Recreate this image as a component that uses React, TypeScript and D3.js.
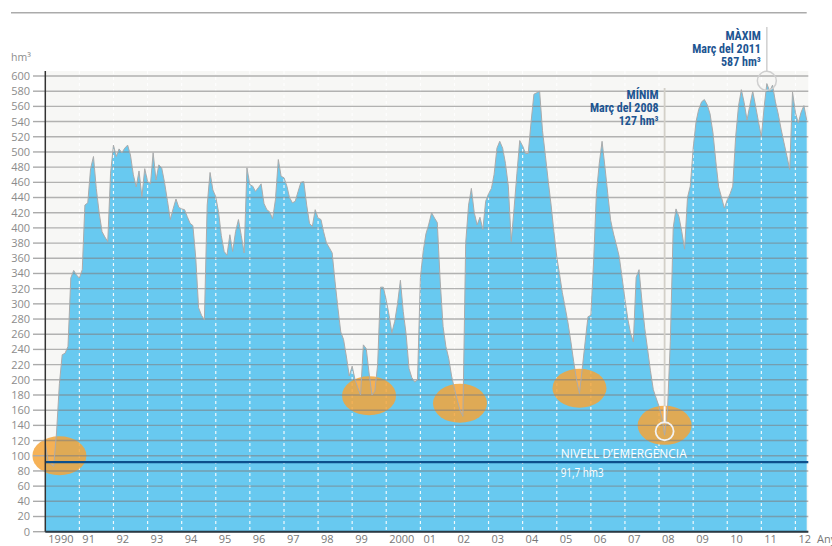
import React from "react";
import * as d3 from "d3";

const W = 832;
const H = 546;

// monthly reservoir volume (hm3), Jan 1990 .. May 2012
const years = d3.range(1990, 2013);
const yearLabels = ["1990", "91", "92", "93", "94", "95", "96", "97", "98", "99", "2000",
  "01", "02", "03", "04", "05", "06", "07", "08", "09", "10", "11", "12"];

const vol1990 = [117, 92, 89, 86, 130, 195, 233, 235, 244, 334, 344, 338];
const vol1991 = [334, 345, 430, 433, 478, 494, 452, 420, 395, 388, 382, 472];
const vol1992 = [509, 494, 504, 499, 505, 509, 496, 470, 454, 475, 441, 478];
const vol1993 = [461, 458, 499, 463, 483, 479, 460, 436, 411, 425, 438, 427];
const vol1994 = [425, 424, 415, 406, 403, 360, 295, 285, 279, 430, 473, 450];
const vol1995 = [441, 420, 390, 369, 364, 391, 369, 395, 411, 390, 367, 479];
const vol1996 = [457, 455, 448, 453, 458, 432, 424, 421, 412, 437, 490, 468];
const vol1997 = [466, 455, 440, 433, 435, 448, 460, 461, 430, 406, 402, 424];
const vol1998 = [413, 411, 395, 380, 374, 367, 330, 295, 263, 253, 230, 205];
const vol1999 = [218, 200, 190, 180, 246, 241, 209, 180, 185, 220, 322, 322];
const vol2000 = [305, 285, 262, 277, 300, 331, 290, 260, 215, 203, 197, 200];
const vol2001 = [335, 370, 392, 405, 420, 413, 407, 330, 270, 244, 228, 205];
const vol2002 = [188, 173, 160, 152, 380, 430, 452, 420, 404, 414, 398, 435];
const vol2003 = [445, 452, 470, 505, 514, 505, 485, 455, 382, 425, 472, 515];
const vol2004 = [508, 498, 498, 540, 576, 578, 580, 528, 495, 462, 430, 395];
const vol2005 = [362, 338, 315, 295, 275, 250, 224, 200, 182, 215, 250, 283];
const vol2006 = [285, 360, 445, 485, 514, 480, 445, 410, 392, 378, 362, 335];
const vol2007 = [306, 280, 262, 250, 335, 345, 305, 268, 240, 212, 187, 176];
const vol2008 = [165, 150, 127, 160, 250, 400, 425, 415, 395, 372, 440, 455];
const vol2009 = [505, 540, 556, 566, 569, 562, 550, 525, 487, 454, 440, 426];
const vol2010 = [437, 445, 455, 520, 560, 582, 565, 542, 562, 580, 560, 540];
const vol2011 = [520, 560, 590, 580, 588, 566, 550, 530, 512, 495, 477, 579];
const vol2012 = [552, 538, 552, 561, 542];

const monthly = [vol1990, vol1991, vol1992, vol1993, vol1994, vol1995, vol1996, vol1997,
  vol1998, vol1999, vol2000, vol2001, vol2002, vol2003, vol2004, vol2005, vol2006,
  vol2007, vol2008, vol2009, vol2010, vol2011, vol2012];

const yTicks = d3.range(0, 601, 20);
const emergencyLevel = 91.7;

// orange rings around the dry spells
const highlightMonths = ["1990-06", "1999-07", "2002-03", "2005-09", "2008-03"];
const highlightValues = [100, 179, 169, 189, 140];

const maxMonth = "2011-03";
const maxValue = 587;
const minMonth = "2008-03";
const minValue = 127;

const parseMonth = d3.timeParse("%Y-%m");

const series = monthly.flatMap((vals, i) =>
  vals.map((v, m) => ({ date: new Date(years[i], m, 1), v }))
);

const left = 45.3;
const right = 806.7;

const x = d3.scaleTime()
  .domain([series[0].date, series[series.length - 1].date])
  .range([left, right]);
const y = d3.scaleLinear().domain([0, 600]).range([531.7, 76]);

const plotTop = y(600) - 5;
const plotRight = right + 1.6;
const bottom = y(0);

const area = d3.area<{ date: Date; v: number }>()
  .x(d => x(d.date))
  .y0(bottom)
  .y1(d => y(d.v));
const line = d3.line<{ date: Date; v: number }>()
  .x(d => x(d.date))
  .y(d => y(d.v));

const labelFont = "'Open Sans', 'DejaVu Sans', sans-serif";
const noteFont = "'Liberation Sans Narrow', 'Roboto Condensed', 'Liberation Sans', sans-serif";
const noteBlue = "#1d5592";

export default function App() {
  const maxX = x(parseMonth(maxMonth)!);
  const maxY = y(maxValue) - 5;
  const minX = x(parseMonth(minMonth)!);
  const minY = y(minValue) - 4;

  return (
    <svg width={W} height={H} style={{ position: "absolute", left: 0, top: 0 }}>
      <rect width={W} height={H} fill="#fff" />
      <line x1={11} x2={806.7} y1={12.7} y2={12.7} stroke="#ababab" strokeWidth={1.5} />

      {/* plot background */}
      <rect x={left} y={plotTop} width={plotRight - left} height={bottom - plotTop} fill="#f7f7f5" />

      <path d={area(series)!} fill="#68c9f0" />

      {/* year dividers */}
      {years.slice(1).map(yr => (
        <line key={yr} x1={x(new Date(yr, 0, 1))} x2={x(new Date(yr, 0, 1))} y1={plotTop} y2={bottom}
          stroke="#fff" strokeWidth={1.2} strokeDasharray="3,3" opacity={0.9} />
      ))}

      {highlightMonths.map((m, i) => (
        <ellipse key={m} cx={x(parseMonth(m)!)} cy={y(highlightValues[i])} rx={27} ry={19.5}
          fill="#f5a43a" opacity={0.85} />
      ))}

      {/* grid + ticks */}
      {yTicks.map(t => (
        <g key={t}>
          <line x1={left} x2={plotRight} y1={y(t)} y2={y(t)} stroke="#808080" strokeOpacity={0.58} strokeWidth={1.4} />
          <line x1={33} x2={left} y1={y(t)} y2={y(t)} stroke="#aaa" strokeWidth={1.4} />
          <text x={30} y={y(t)} dy="0.36em" textAnchor="end" fontFamily={labelFont} fontSize={11}
            fill="#8c8c8c">{t}</text>
        </g>
      ))}

      <path d={line(series)!} fill="none" stroke="#ababab" strokeWidth={1} />

      {/* emergency level */}
      <line x1={left} x2={plotRight} y1={y(emergencyLevel)} y2={y(emergencyLevel)} stroke="#0d4f8c" strokeWidth={2.2} />
      <text x={560.7} y={457.5} fontFamily={labelFont} fontSize={13} fill="#fff" textLength={126}
        lengthAdjust="spacingAndGlyphs">NIVELL D’EMERGÈNCIA</text>
      <text x={560.7} y={476.5} fontFamily={labelFont} fontSize={13} fill="#fff" textLength={43}
        lengthAdjust="spacingAndGlyphs">91,7 hm3</text>

      {/* axes */}
      <line x1={left} x2={left} y1={plotTop} y2={bottom} stroke="#333" strokeWidth={1.5} />
      <line x1={left} x2={plotRight} y1={bottom} y2={bottom} stroke="#2b3a44" strokeWidth={2} />
      <text x={11} y={61} fontFamily={labelFont} fontSize={10.5} fill="#8c8c8c">hm³</text>

      {years.map((yr, i) => (
        <text key={yr} x={x(new Date(yr, 0, 1)) + 3} y={543} fontFamily={labelFont} fontSize={11}
          fill="#777">{yearLabels[i]}</text>
      ))}
      <text x={817} y={543} fontFamily={labelFont} fontSize={11} fill="#777">Anys</text>

      {/* maximum */}
      <line x1={maxX} x2={maxX} y1={27} y2={maxY - 9.5} stroke="#cfcfcf" strokeWidth={1.5} />
      <circle cx={maxX} cy={maxY} r={9.5} fill="none" stroke="#cfcfcf" strokeWidth={1.5} />
      <g fontFamily={noteFont} fontWeight="bold" fontSize={12} fill={noteBlue} textAnchor="end">
        <text x={maxX - 6} y={39.5}>MÀXIM</text>
        <text x={maxX - 6} y={53}>Març del 2011</text>
        <text x={maxX - 6} y={66}>{maxValue} hm³</text>
      </g>

      {/* minimum */}
      <line x1={minX} x2={minX} y1={88} y2={minY - 9} stroke="#d3d0c8" strokeWidth={1.8} />
      <line x1={minX} x2={minX} y1={y(highlightValues[4]) - 19} y2={minY - 9} stroke="#fff" strokeWidth={1.8} />
      <circle cx={minX} cy={minY} r={9} fill="none" stroke="#f2f2f2" strokeWidth={1.8} />
      <g fontFamily={noteFont} fontWeight="bold" fontSize={12} fill={noteBlue} textAnchor="end">
        <text x={minX - 6} y={99}>MÍNIM</text>
        <text x={minX - 6} y={112}>Març del 2008</text>
        <text x={minX - 6} y={125}>{minValue} hm³</text>
      </g>
    </svg>
  );
}
